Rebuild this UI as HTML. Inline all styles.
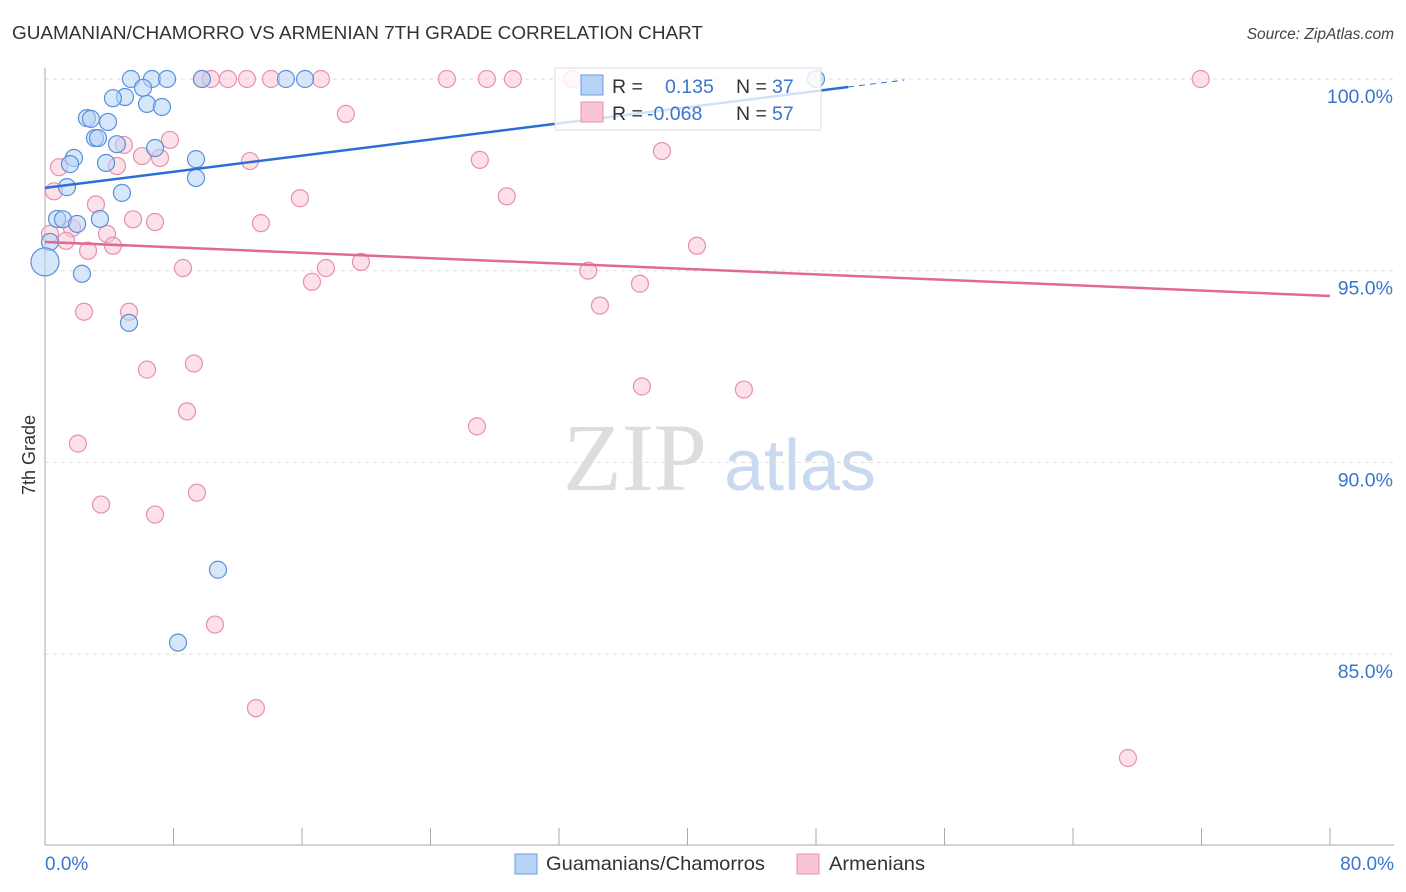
<!DOCTYPE html>
<html><head><meta charset="utf-8"><style>
body{margin:0;background:#fff;font-family:"Liberation Sans",sans-serif;}
svg{display:block}
</style></head><body>
<svg id="chart" width="1406" height="892">
<text x="12" y="39" font-size="18" fill="#333" textLength="691" lengthAdjust="spacingAndGlyphs">GUAMANIAN/CHAMORRO VS ARMENIAN 7TH GRADE CORRELATION CHART</text>
<text x="1394" y="39" font-size="15.5" fill="#444" font-style="italic" text-anchor="end">Source: ZipAtlas.com</text>
<text x="35" y="455" font-size="18" fill="#333" text-anchor="middle" transform="rotate(-90 35 455)">7th Grade</text>
<text x="635" y="490" font-size="96" fill="#ddd" font-family="Liberation Serif,serif" text-anchor="middle">ZIP</text>
<text x="800" y="490" font-size="72" fill="#c9d9f0" text-anchor="middle">atlas</text>
<g id="grid"></g><g id="pts"></g><g id="lines"></g>
<g>
<rect x="555" y="68" width="266" height="62" fill="#fff" fill-opacity="0.8" stroke="#ddd"/>
<rect x="581" y="75" width="22" height="20" fill="#b7d3f5" stroke="#6a9ee0"/>
<rect x="581" y="102" width="22" height="20" fill="#f9c4d4" stroke="#e890aa"/>
<text y="93" font-size="19.5" fill="#333"><tspan x="612">R =</tspan><tspan x="665" fill="#3b74d1">0.135</tspan><tspan x="736">N =</tspan><tspan x="772" fill="#3b74d1">37</tspan></text>
<text y="120" font-size="19.5" fill="#333"><tspan x="612">R =</tspan><tspan x="647" fill="#3b74d1">-0.068</tspan><tspan x="736">N =</tspan><tspan x="772" fill="#3b74d1">57</tspan></text>
</g>
<g>
<rect x="515" y="854" width="22" height="20" fill="#b7d3f5" stroke="#6a9ee0"/>
<text x="546" y="870" font-size="19.5" fill="#333" textLength="219" lengthAdjust="spacingAndGlyphs">Guamanians/Chamorros</text>
<rect x="797" y="854" width="22" height="20" fill="#f9c4d4" stroke="#e890aa"/>
<text x="829" y="870" font-size="19.5" fill="#333" textLength="96" lengthAdjust="spacingAndGlyphs">Armenians</text>
</g>
</svg>
<script>
const xTicks=[8,16,24,32,40,48,56,64,72,80];
const yTicks=[100,95,90,85];
const blueX=[5.35,6.66,7.60,9.77,15.00,16.19,48.00,6.10,4.98,4.23,6.35,7.28,2.61,2.86,3.92,3.11,3.30,4.48,6.85,1.80,1.56,3.80,9.40,9.40,1.37,4.79,0.75,1.12,3.42,2.00,0.31,0.00,2.30,5.23,10.77,8.28];
const blueY=[100,100,100,100,100,100,100,99.77,99.53,99.50,99.35,99.27,98.98,98.96,98.88,98.46,98.46,98.30,98.20,97.94,97.78,97.81,97.91,97.42,97.18,97.03,96.35,96.34,96.35,96.22,95.75,95.23,94.92,93.64,87.20,85.30];
const pinkX=[9.77,10.33,11.39,12.57,14.07,17.18,25.02,27.51,29.13,32.82,71.95,18.73,7.78,4.91,6.04,7.16,0.87,4.48,12.76,27.07,38.41,0.56,3.17,15.87,28.75,5.48,6.85,13.44,1.68,3.86,1.31,4.23,2.68,40.59,8.59,17.49,19.67,33.82,16.62,37.04,34.55,2.43,5.23,6.35,9.27,37.16,43.51,8.84,26.89,2.05,3.49,9.46,6.85,10.58,13.13,67.42,0.31];
const pinkY=[100,100,100,100,100,100,100,100,100,100,100,99.09,98.41,98.28,97.99,97.94,97.70,97.73,97.86,97.89,98.12,97.07,96.73,96.89,96.94,96.34,96.27,96.24,96.11,95.96,95.78,95.65,95.52,95.65,95.07,95.07,95.23,95.00,94.71,94.66,94.09,93.93,93.93,92.42,92.58,91.98,91.90,91.33,90.94,90.49,88.90,89.21,88.64,85.77,83.59,82.29,95.96];
const blueTrend=[[0,97.16],[50,99.79]];
const pinkTrend=[[0,95.75],[80,94.34]];
const X=v=>45+v/80*1285, Y=v=>79+(100-v)/5*191.7;
const NS="http://www.w3.org/2000/svg";
function mk(p,t,a){const e=document.createElementNS(NS,t);for(const k in a)e.setAttribute(k,a[k]);p.appendChild(e);return e;}
const grid=document.getElementById('grid');
yTicks.forEach(t=>{const l=mk(grid,'line',{x1:45,x2:1394,y1:Y(t),y2:Y(t),stroke:'#ddd','stroke-dasharray':'4,4'});


const tx=mk(grid,'text',{x:1393,y:Y(t)+24,'font-size':19.5,fill:'#3b74d1','text-anchor':'end'});tx.textContent=t.toFixed(1)+'%';

});
mk(grid,'line',{x1:45,x2:45,y1:68,y2:845,stroke:'#aaa'});
mk(grid,'line',{x1:45,x2:1394,y1:845,y2:845,stroke:'#aaa'});
xTicks.forEach(t=>{const l=mk(grid,'line',{x1:X(t),x2:X(t),y1:828,y2:845,stroke:'#aaa'});

});
[[0,'start',45],[80,'end',1394]].forEach(([t,a,x])=>{const tx=mk(grid,'text',{x:x,y:870,'font-size':19,fill:'#3b74d1','text-anchor':a});tx.textContent=t.toFixed(1)+'%';

});
const pts=document.getElementById('pts');
pinkX.forEach((v,i)=>{const c=mk(pts,'circle',{cx:X(v),cy:Y(pinkY[i]),r:8.5,fill:'#f9c4d4','fill-opacity':0.5,stroke:'#e890aa','stroke-width':1.2});

});
blueX.forEach((v,i)=>{const c=mk(pts,'circle',{cx:X(v),cy:Y(blueY[i]),r:i==31?14:8.5,fill:'#b7d3f5','fill-opacity':0.55,stroke:'#5b8fdb','stroke-width':1.2});

});
const ln=document.getElementById('lines');
let b=mk(ln,'line',{x1:X(blueTrend[0][0]),y1:Y(blueTrend[0][1]),x2:X(blueTrend[1][0]),y2:Y(blueTrend[1][1]),stroke:'#2a6fd6','stroke-width':2.5});


const s=(blueTrend[1][1]-blueTrend[0][1])/(blueTrend[1][0]-blueTrend[0][0]);
let bd=mk(ln,'line',{x1:X(blueTrend[1][0]),y1:Y(blueTrend[1][1]),x2:X(53.5),y2:Y(blueTrend[0][1]+s*53.5),stroke:'#2a6fd6','stroke-width':1,'stroke-dasharray':'6,5'});


let p=mk(ln,'line',{x1:X(pinkTrend[0][0]),y1:Y(pinkTrend[0][1]),x2:X(pinkTrend[1][0]),y2:Y(pinkTrend[1][1]),stroke:'#e06a95','stroke-width':2.5});


</script>
</body></html>
